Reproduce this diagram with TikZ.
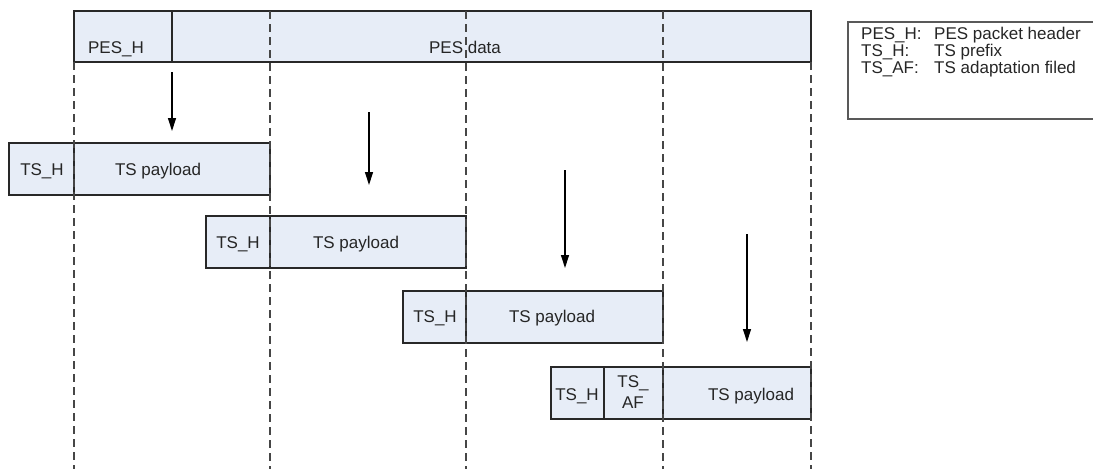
\documentclass[tikz,border=0pt]{standalone}
\usepackage{fontspec}
\setmainfont{Liberation Sans}
\usetikzlibrary{arrows.meta}
\definecolor{cellfill}{RGB}{231,237,247}
\definecolor{edge}{RGB}{40,40,40}
\definecolor{guidegray}{RGB}{70,70,70}
\begin{document}
\begin{tikzpicture}[x=1pt,y=-1pt,
  cell/.style={draw=edge, fill=cellfill, line width=1.2pt, rectangle,
    inner sep=0pt, outer sep=0pt, anchor=north west, minimum height=52pt},
  lbl/.style={font=\fontsize{17}{18}\selectfont, inner sep=0pt, anchor=base, text=black!85},
  lgd/.style={lbl, anchor=base west},
  guide/.style={draw=guidegray, line width=1.2pt, dash pattern=on 8pt off 5pt},
  flow/.style={draw=black, line width=1.2pt, -{Triangle[length=13pt,width=8pt]}},
  legendbox/.style={draw=black!65, line width=1.5pt, rectangle, inner sep=0pt,
    outer sep=0pt, anchor=north west}]
\clip (0,0) rectangle (1093,469);

% PES packet: header and data
\node[cell, minimum width=98pt, minimum height=51pt] (pesh) at (74,11) {};
\node[cell, minimum width=639pt, minimum height=51pt] (pesd) at (172,11) {};
\node[lbl] (peshtxt) at (116,53) {PES\_H};
\node[lbl] (pesdtxt) at (465,53) {PES data};

% TS packet 1
\node[cell, minimum width=65pt] (tsh1) at (9,143) {};
\node[cell, minimum width=196pt] (pay1) at (74,143) {};
\node[lbl] (tsh1txt) at (42,175) {TS\_H};
\node[lbl] (pay1txt) at (158,175) {TS payload};

% TS packet 2
\node[cell, minimum width=64pt] (tsh2) at (206,216) {};
\node[cell, minimum width=196pt] (pay2) at (270,216) {};
\node[lbl] (tsh2txt) at (238,248) {TS\_H};
\node[lbl] (pay2txt) at (356,248) {TS payload};

% TS packet 3
\node[cell, minimum width=63pt] (tsh3) at (403,291) {};
\node[cell, minimum width=197pt] (pay3) at (466,291) {};
\node[lbl] (tsh3txt) at (435,322) {TS\_H};
\node[lbl] (pay3txt) at (552,322) {TS payload};

% TS packet 4 with adaptation field
\node[cell, minimum width=53pt] (tsh4) at (551,367) {};
\node[cell, minimum width=59pt] (af4) at (604,367) {};
\node[cell, minimum width=148pt] (pay4) at (663,367) {};
\node[lbl] (tsh4txt) at (577,400) {TS\_H};
\node[lbl] (af4top) at (633,387) {TS\_};
\node[lbl] (af4bot) at (633,408) {AF};
\node[lbl] (pay4txt) at (751,400) {TS payload};

% dashed boundary guides
\coordinate (g1t) at (74,62);  \coordinate (g1b) at (74,469);
\coordinate (g2t) at (270,11); \coordinate (g2b) at (270,469);
\coordinate (g3t) at (466,11); \coordinate (g3b) at (466,469);
\coordinate (g4t) at (663,11); \coordinate (g4b) at (663,469);
\coordinate (g5t) at (811,62); \coordinate (g5b) at (811,469);
\foreach \g in {1,...,5} \draw[guide] (g\g t) -- (g\g b);

% mapping arrows
\coordinate (a1s) at (172,72);  \coordinate (a1e) at (172,131);
\coordinate (a2s) at (369,112); \coordinate (a2e) at (369,185);
\coordinate (a3s) at (565,170); \coordinate (a3e) at (565,268);
\coordinate (a4s) at (747,234); \coordinate (a4e) at (747,342);
\foreach \a in {1,...,4} \draw[flow] (a\a s) -- (a\a e);

% legend
\node[legendbox, minimum width=260pt, minimum height=97pt] (legend) at (848,22) {};
\node[lgd] (l1a) at (861,39) {PES\_H:};
\node[lgd] (l1b) at (934,39) {PES packet header};
\node[lgd] (l2a) at (861,56) {TS\_H:};
\node[lgd] (l2b) at (934,56) {TS prefix};
\node[lgd] (l3a) at (861,73) {TS\_AF:};
\node[lgd] (l3b) at (934,73) {TS adaptation filed};
\end{tikzpicture}
\end{document}
